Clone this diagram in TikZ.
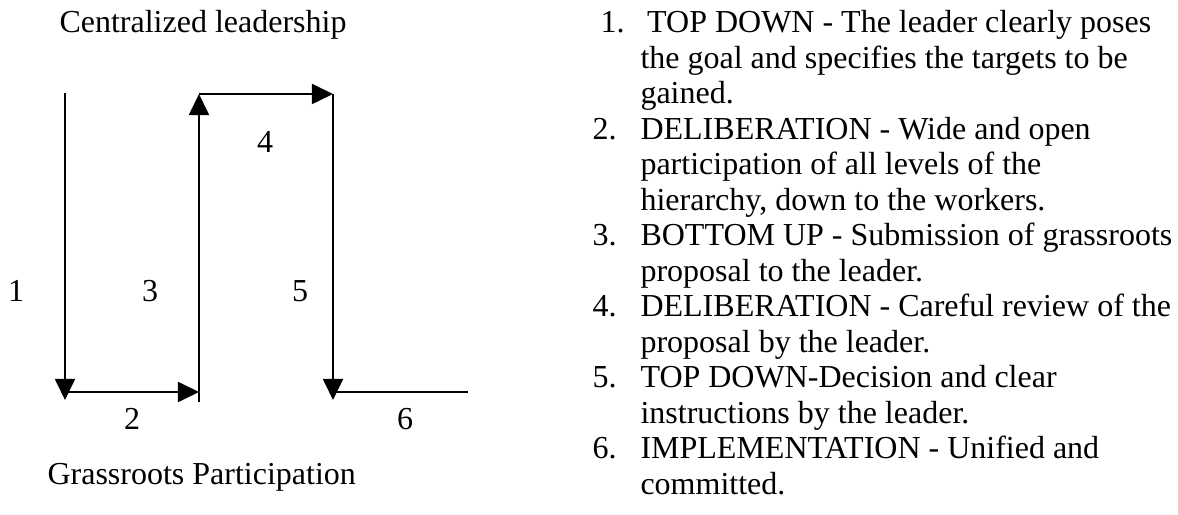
\documentclass[tikz,border=0pt]{standalone}
\usepackage{fontspec}
\setmainfont{Liberation Serif}
\usetikzlibrary{arrows.meta}

\begin{document}
\begin{tikzpicture}[x=0.375pt, y=-0.375pt,
  font=\fontsize{12}{13.3}\selectfont,
  flow/.style={line width=0.75pt, -{Triangle[length=7.9pt,width=7.5pt]}},
  flat/.style={line width=0.75pt},
  stepnum/.style={anchor=base, inner sep=0pt},
  itemnum/.style={anchor=base west, inner sep=0pt},
  itemtext/.style={anchor=base west, inner sep=0pt, text width=205pt, align=flush left}]
\useasboundingbox (0,0) rectangle (1178,515);

% Titles
\node[anchor=base west, inner sep=0pt] (top) at (59,33) {Centralized leadership};
\node[anchor=base west, inner sep=0pt] (bottom) at (47,485) {Grassroots Participation};

% Corners
\coordinate (d1a) at (65,93);
\coordinate (d1b) at (65,400);
\coordinate (h2a) at (65,392);
\coordinate (h2b) at (199,392);
\coordinate (u3a) at (199,402);
\coordinate (u3b) at (199,94);
\coordinate (h4b) at (333,94);
\coordinate (d5b) at (333,400);
\coordinate (h6a) at (333,392);
\coordinate (h6b) at (468,392);

% Path
\draw[flow] (d1a) -- (d1b);
\draw[flow] (h2a) -- (h2b);
\draw[flow] (u3a) -- (u3b);
\draw[flow] (u3b) -- (h4b);
\draw[flow] (h4b) -- (d5b);
\draw[flat] (h6a) -- (h6b);

% Step numbers
\node[stepnum] (n1) at (16,302) {1};
\node[stepnum] (n2) at (132,430) {2};
\node[stepnum] (n3) at (150,302) {3};
\node[stepnum] (n4) at (265,153) {4};
\node[stepnum] (n5) at (300,302) {5};
\node[stepnum] (n6) at (405,430) {6};

% Legend
\node[itemnum] (k1) at (600,33) {1.};
\node[itemtext] (t1) at (640,33) {\hspace*{2.5pt}TOP DOWN - The leader clearly poses\\the goal and specifies the targets to be\\gained.};
\node[itemnum] (k2) at (592,139.5) {2.};
\node[itemtext] (t2) at (640,139.5) {DELIBERATION - Wide and open\\participation of all levels of the\\hierarchy, down to the workers.};
\node[itemnum] (k3) at (592,246) {3.};
\node[itemtext] (t3) at (640,246) {BOTTOM UP - Submission of grassroots\\proposal to the leader.};
\node[itemnum] (k4) at (592,317) {4.};
\node[itemtext] (t4) at (640,317) {DELIBERATION - Careful review of the\\proposal by the leader.};
\node[itemnum] (k5) at (592,388) {5.};
\node[itemtext] (t5) at (640,388) {TOP DOWN-Decision and clear\\instructions by the leader.};
\node[itemnum] (k6) at (592,459) {6.};
\node[itemtext] (t6) at (640,459) {IMPLEMENTATION - Unified and\\committed.};
\end{tikzpicture}
\end{document}
